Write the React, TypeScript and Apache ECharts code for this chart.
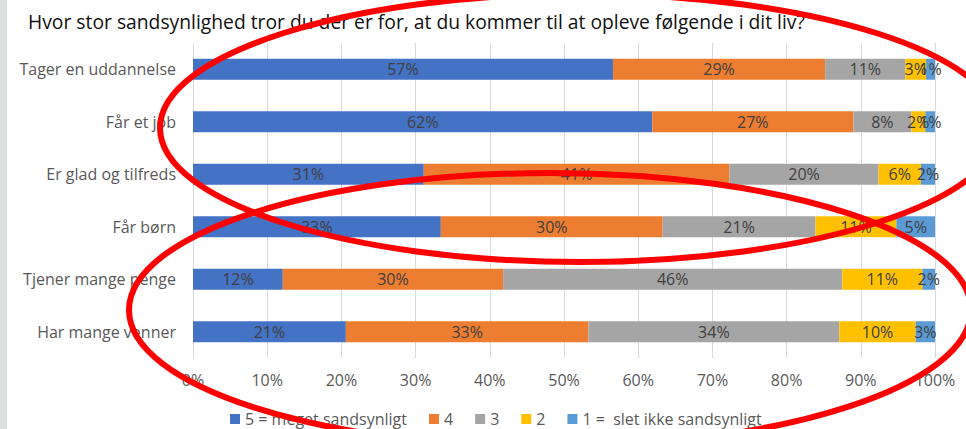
import React, { useEffect, useRef } from "react";
import * as echarts from "echarts";

const titleText =
  "Hvor stor sandsynlighed tror du der er for, at du kommer til at opleve følgende i dit liv?";

const categories = [
  "Tager en uddannelse",
  "Får et job",
  "Er glad og tilfreds",
  "Får børn",
  "Tjener mange penge",
  "Har mange venner",
];

const seriesNames = [
  "5 = meget sandsynligt",
  "4",
  "3",
  "2",
  "1 =  slet ikke sandsynligt",
];

const level5 = [56.6, 61.9, 31.1, 33.4, 12.1, 20.6];
const level4 = [28.6, 27.1, 41.2, 29.9, 29.7, 32.7];
const level3 = [10.8, 7.8, 20.1, 20.6, 45.7, 33.8];
const level2 = [2.8, 1.9, 5.7, 10.9, 10.8, 10.3];
const level1 = [1.2, 1.3, 1.9, 5.2, 1.7, 2.6];

const seriesValues = [level5, level4, level3, level2, level1];
const seriesColors = ["#4472C4", "#ED7D31", "#A5A5A5", "#FFC000", "#5B9BD5"];

const xTicks = [0, 10, 20, 30, 40, 50, 60, 70, 80, 90, 100];

const FONT = "'Open Sans', 'Noto Sans', sans-serif";

export default function App() {
  const ref = useRef<HTMLDivElement>(null);

  useEffect(() => {
    if (!ref.current) return;
    const chart = echarts.init(ref.current, null, { renderer: "svg" });
    chart.setOption({
      animation: false,
      backgroundColor: "#ffffff",
      textStyle: { fontFamily: FONT },
      title: {
        text: titleText,
        left: 23,
        top: 7,
        textStyle: {
          fontFamily: FONT,
          fontSize: 19.3,
          fontWeight: "normal",
          color: "#111111",
        },
      },
      grid: { left: 193, right: 31, top: 43, bottom: 71 },
      xAxis: {
        type: "value",
        min: xTicks[0],
        max: xTicks[xTicks.length - 1],
        interval: 10,
        axisLine: { show: false },
        axisTick: { show: false },
        splitLine: { lineStyle: { color: "#d9d9d9", width: 1 } },
        axisLabel: {
          formatter: "{value}%",
          color: "#595959",
          fontSize: 16,
          margin: 14,
          fontFamily: FONT,
        },
      },
      yAxis: {
        type: "category",
        data: categories,
        inverse: true,
        axisLine: { show: true, lineStyle: { color: "#d9d9d9", width: 1 } },
        axisTick: { show: false },
        axisLabel: {
          color: "#595959",
          fontSize: 16,
          margin: 17,
          fontFamily: FONT,
        },
      },
      legend: {
        bottom: -3,
        left: 225,
        icon: "rect",
        itemWidth: 10,
        itemHeight: 10,
        itemGap: 22,
        textStyle: { color: "#595959", fontSize: 16, fontFamily: FONT },
        data: seriesNames,
      },
      series: seriesNames.map((name, i) => ({
        name,
        type: "bar",
        stack: "total",
        barWidth: 21,
        data: seriesValues[i],
        itemStyle: { color: seriesColors[i] },
        label: {
          show: true,
          position: "inside",
          color: "#404040",
          fontSize: 16,
          fontFamily: FONT,
          formatter: (p: any) => Math.round(p.value) + "%",
        },
      })),
      graphic: [
        {
          type: "rect",
          shape: { x: 0, y: 0, width: 7, height: 429 },
          style: { fill: "#dde0e0" },
          z: 100,
        },
        {
          type: "ellipse",
          shape: { cx: 580, cy: 128, rx: 420, ry: 134 },
          style: { fill: "none", stroke: "#ff0000", lineWidth: 6 },
          z: 100,
        },
        {
          type: "ellipse",
          shape: { cx: 550, cy: 310, rx: 421, ry: 137 },
          style: { fill: "none", stroke: "#ff0000", lineWidth: 6 },
          z: 100,
        },
      ],
    });
    return () => chart.dispose();
  }, []);

  return (
    <div
      ref={ref}
      style={{ position: "fixed", left: 0, top: 0, width: 966, height: 429 }}
    />
  );
}
